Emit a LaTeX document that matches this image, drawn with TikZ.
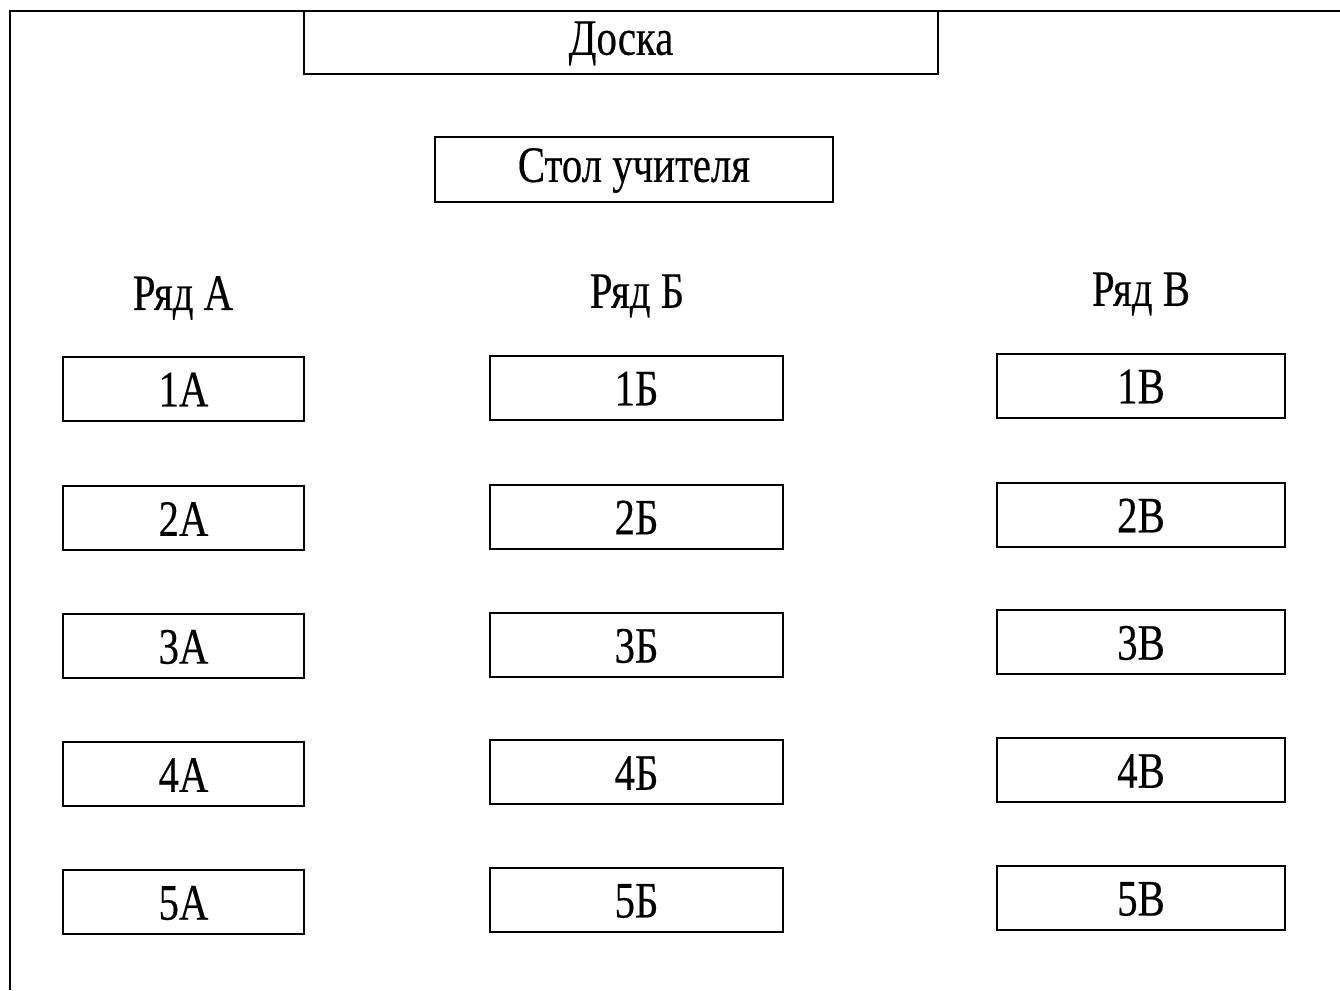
\documentclass[tikz,border=0pt]{standalone}
\usepackage{fontspec}
\setmainfont[FakeBold=0.4,AutoFakeBold=0.4]{Liberation Serif}
\newcommand{\nar}[1]{\raisebox{-1pt}[\height][\depth]{\scalebox{0.8}[1]{\bfseries #1}}}
\begin{document}
\begin{tikzpicture}[x=1pt,y=-1pt,
  box/.style={draw, line width=2pt, inner sep=0pt, font=\fontsize{51}{55}\selectfont},
  lbl/.style={inner sep=0pt, font=\fontsize{51}{55}\selectfont}]
\useasboundingbox (0,0) rectangle (1340,990);
\fill[white] (0,0) rectangle (1340,990);
% frame
\draw[line width=2pt] (10,990) -- (10,11) -- (1340,11);
% board and teacher desk
\node[box, minimum width=634pt, minimum height=63pt] (doska) at (621,42.5) {\nar{Доска}};
\node[box, minimum width=398pt, minimum height=65pt] (stol) at (634,169.5) {\nar{Стол учителя}};
% row labels
\node[lbl] (ryadA) at (183,297) {\nar{Ряд А}};
\node[lbl] (ryadB) at (637,295) {\nar{Ряд Б}};
\node[lbl] (ryadV) at (1141,293) {\nar{Ряд В}};
% column A
\foreach \i/\y in {1/388.5,2/518,3/646,4/774,5/902}
  \node[box, minimum width=241pt, minimum height=64pt] (a\i) at (183.5,\y) {\nar{\i А}};
% column B
\foreach \i/\y in {1/387.5,2/516.5,3/645,4/772,5/900}
  \node[box, minimum width=293pt, minimum height=64pt] (b\i) at (636.5,\y) {\nar{\i Б}};
% column V
\foreach \i/\y in {1/385.5,2/514.5,3/642,4/770,5/898}
  \node[box, minimum width=288pt, minimum height=64pt] (v\i) at (1141,\y) {\nar{\i В}};
\end{tikzpicture}
\end{document}
